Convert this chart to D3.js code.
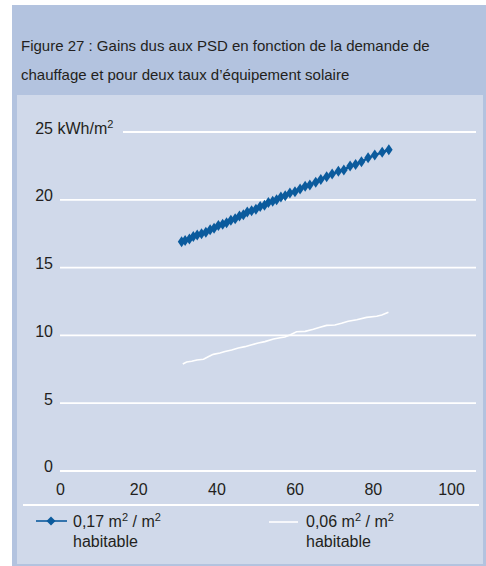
<!DOCTYPE html>
<html>
<head>
<meta charset="utf-8">
<script src="https://cdn.jsdelivr.net/npm/d3@7"></script>
<style>
  body { margin: 0; background: #fff; }
  svg { display: block; font-family: "Liberation Sans", Arial, sans-serif; }
</style>
</head>
<body>
<div id="chart"></div>
<script>
// chart size
var width = 486,
    height = 566;

// heating demand (x) for the 0,17 m2/m2 series
var demandA = [31.1, 32.0, 33.1, 34.1, 35.1, 36.2, 37.3, 38.4, 39.4, 40.5, 41.6, 42.6, 43.7, 44.8,
  45.9, 46.9, 47.9, 49.0, 50.1, 51.2, 52.3, 53.3, 54.4, 55.4, 56.5, 57.6, 58.8, 60.1, 61.4, 62.7,
  63.9, 65.4, 66.7, 68.2, 69.6, 71.2, 72.6, 74.2, 75.6, 77.1, 78.8, 80.5, 82.4, 84.1];
var gainsA = [16.9, 17.0, 17.1, 17.3, 17.4, 17.5, 17.6, 17.8, 17.9, 18.1, 18.2, 18.3, 18.5, 18.6,
  18.8, 18.9, 19.1, 19.2, 19.3, 19.5, 19.6, 19.8, 19.9, 20.0, 20.2, 20.3, 20.5, 20.6, 20.8, 21.0,
  21.1, 21.3, 21.5, 21.7, 21.9, 22.1, 22.2, 22.5, 22.6, 22.8, 23.1, 23.3, 23.5, 23.7];

// 0,06 m2/m2 series
var demandB = [31.4, 32.4, 33.7, 35.0, 36.7, 37.9, 39.2, 40.9, 42.2, 43.9, 45.6, 47.3, 48.6, 50.7,
  52.4, 54.6, 56.3, 57.5, 58.8, 60.5, 62.7, 64.8, 66.5, 68.2, 70.3, 72.0, 73.7, 75.9, 78.4, 81.0,
  82.3, 84.0];
var gainsB = [7.89, 8.04, 8.09, 8.19, 8.24, 8.43, 8.60, 8.70, 8.82, 8.92, 9.07, 9.17, 9.27, 9.44,
  9.54, 9.73, 9.83, 9.88, 10.03, 10.27, 10.30, 10.45, 10.60, 10.74, 10.77, 10.89, 11.04, 11.16,
  11.33, 11.41, 11.50, 11.70];

var xTicks = [0, 20, 40, 60, 80, 100];
var yTicks = [0, 5, 10, 15, 20, 25];

var titleLines = ["Figure 27 : Gains dus aux PSD en fonction de la demande de",
                  "chauffage et pour deux taux d\u2019\u00e9quipement solaire"];
var legendLabels = ["0,17", "0,06"];

var headerColor = "#b3c3df",
    panelColor = "#d0d9ea",
    blue = "#0b5b9d",
    textColor = "#231f20";

var svg = d3.select("#chart").append("svg")
    .attr("width", width)
    .attr("height", height);

// outer frame + lighter panel
svg.append("rect")
    .attr("x", 12).attr("y", 5)
    .attr("width", 474).attr("height", 561)
    .attr("fill", headerColor);
svg.append("rect")
    .attr("x", 17).attr("y", 95)
    .attr("width", 466).attr("height", 469)
    .attr("fill", panelColor);

// title
svg.append("g").selectAll("text")
    .data(titleLines)
    .enter().append("text")
    .attr("x", 21)
    .attr("y", function(d, i) { return 51 + i * 29; })
    .attr("font-size", 15)
    .attr("fill", textColor)
    .text(function(d) { return d; });

var x = d3.scaleLinear().domain([0, 100]).range([60, 451]);
var y = d3.scaleLinear().domain([0, 25]).range([471, 132]);
var gridRight = 476;

// gridlines (top one starts after the unit label)
svg.append("g").selectAll("line")
    .data(yTicks)
    .enter().append("line")
    .attr("x1", function(d) { return d === 25 ? 123 : 60; })
    .attr("x2", gridRight)
    .attr("y1", function(d) { return y(d); })
    .attr("y2", function(d) { return y(d); })
    .attr("stroke", "#fff")
    .attr("stroke-width", 1.8);

// y axis labels
var yAxis = svg.append("g")
    .attr("transform", "translate(53,0)")
    .call(d3.axisLeft(y).tickValues(yTicks.slice(0, 5)).tickSize(0).tickPadding(0));
yAxis.select(".domain").remove();
yAxis.selectAll("text")
    .attr("font-family", "Liberation Sans, Arial, sans-serif")
    .attr("font-size", 16)
    .attr("fill", textColor)
    .attr("dy", "0.05em");

// 25 with the unit
var topLabel = svg.append("text")
    .attr("y", y(25) + 1.5)
    .attr("font-size", 16)
    .attr("fill", textColor);
topLabel.append("tspan").text("25");
var w25 = topLabel.node().getComputedTextLength();
topLabel.attr("x", 53 - w25);
topLabel.append("tspan").text(" kWh/m");
topLabel.append("tspan").attr("font-size", 11).attr("dy", -6).text("2");

// x axis labels
var xAxis = svg.append("g")
    .attr("transform", "translate(0,484)")
    .call(d3.axisBottom(x).tickValues(xTicks).tickSize(0).tickPadding(0));
xAxis.select(".domain").remove();
xAxis.selectAll("text")
    .attr("font-family", "Liberation Sans, Arial, sans-serif")
    .attr("font-size", 16)
    .attr("fill", textColor);

// separator above legend
svg.append("line")
    .attr("x1", 23).attr("x2", 479)
    .attr("y1", 505).attr("y2", 505)
    .attr("stroke", "#fff")
    .attr("stroke-width", 2);

var line = d3.line()
    .x(function(d) { return x(d[0]); })
    .y(function(d) { return y(d[1]); });

var seriesA = d3.zip(demandA, gainsA);
var seriesB = d3.zip(demandB, gainsB);

// 0,06 series: plain white line
svg.append("path")
    .datum(seriesB)
    .attr("d", line)
    .attr("fill", "none")
    .attr("stroke", "#fff")
    .attr("stroke-width", 1.6);

// 0,17 series: blue line with diamonds
svg.append("path")
    .datum(seriesA)
    .attr("d", line)
    .attr("fill", "none")
    .attr("stroke", blue)
    .attr("stroke-width", 2.5);

function diamond(w, h) {
  return "M0," + (-h) + "L" + w + ",0L0," + h + "L" + (-w) + ",0Z";
}

svg.append("g").selectAll("path")
    .data(seriesA)
    .enter().append("path")
    .attr("transform", function(d) { return "translate(" + x(d[0]) + "," + y(d[1]) + ")"; })
    .attr("d", diamond(3.8, 5.5))
    .attr("fill", blue);

// legend
var legend = svg.append("g");
legend.append("line")
    .attr("x1", 36).attr("x2", 67).attr("y1", 521).attr("y2", 521)
    .attr("stroke", blue).attr("stroke-width", 1.6);
legend.append("path")
    .attr("transform", "translate(51,521)")
    .attr("d", diamond(4.5, 4.5))
    .attr("fill", blue);
legend.append("line")
    .attr("x1", 269).attr("x2", 298).attr("y1", 522).attr("y2", 522)
    .attr("stroke", "#fff").attr("stroke-width", 1.6);

[73, 306].forEach(function(lx, i) {
  var t = legend.append("text")
      .attr("x", lx).attr("y", 527)
      .attr("font-size", 16)
      .attr("fill", textColor);
  t.append("tspan").text(legendLabels[i] + " m");
  t.append("tspan").attr("font-size", 11).attr("dy", -6).text("2");
  t.append("tspan").attr("dy", 6).text(" / m");
  t.append("tspan").attr("font-size", 11).attr("dy", -6).text("2");
  legend.append("text")
      .attr("x", lx).attr("y", 547)
      .attr("font-size", 16)
      .attr("fill", textColor)
      .text("habitable");
});
</script>
</body>
</html>
